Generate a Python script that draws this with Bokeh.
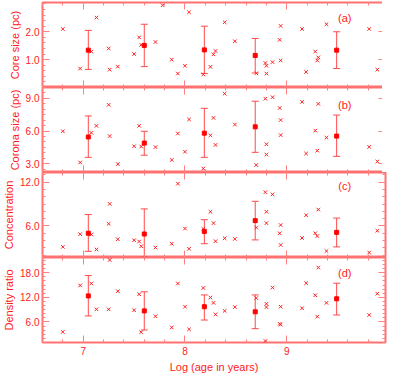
import numpy as np
from bokeh.plotting import figure
from bokeh.layouts import column
from bokeh.models import (LinearAxis, Range1d, FixedTicker, SingleIntervalTicker, Whisker,
                          TeeHead, ColumnDataSource, Label, PrintfTickFormatter)
from bokeh.embed import file_html
from bokeh.resources import INLINE

# ---------------- data ----------------
age_a = [6.80, 6.97, 7.13, 7.08, 7.25, 7.26, 7.34, 7.50, 7.55, 7.57, 7.71, 7.78, 7.87, 7.93, 8.00, 8.04,
         8.18, 8.25, 8.28, 8.30, 8.39, 8.49, 8.70, 8.79, 8.80, 8.80, 8.86, 8.93, 8.94, 8.94, 9.15, 9.19,
         9.28, 9.30, 9.31, 9.39, 9.81, 9.89]
core = [2.10, 0.68, 2.51, 1.29, 1.40, 0.64, 0.75, 1.20, 1.80, 1.53, 1.63, 2.95, 1.00, 0.50, 0.78, 2.70,
        0.47, 0.74, 1.19, 1.31, 2.34, 1.66, 0.51, 0.88, 0.78, 0.50, 0.91, 1.71, 2.21, 0.97, 2.10, 0.56,
        1.29, 0.97, 1.08, 2.27, 2.10, 0.64]

age_b = [6.80, 6.97, 7.08, 7.13, 7.25, 7.26, 7.34, 7.50, 7.55, 7.57, 7.71, 7.87, 7.93, 8.00, 8.04,
         8.18, 8.25, 8.28, 8.30, 8.39, 8.49, 8.70, 8.79, 8.80, 8.80, 8.86, 8.93, 8.94, 8.94, 9.15, 9.19,
         9.28, 9.30, 9.31, 9.39, 9.81, 9.89]
corona = [5.98, 3.12, 5.84, 6.48, 8.41, 5.54, 2.97, 4.61, 6.48, 4.58, 4.53, 3.35, 5.78, 4.11, 7.07,
          2.56, 5.61, 7.21, 4.73, 9.44, 6.60, 2.89, 8.97, 4.79, 3.85, 9.11, 8.12, 7.01, 5.63, 8.68, 3.94,
          6.04, 4.20, 8.50, 5.40, 4.55, 3.21]

age_c = [6.80, 6.97, 7.08, 7.13, 7.25, 7.26, 7.34, 7.50, 7.55, 7.57, 7.71, 7.87, 7.93, 8.00, 8.04,
         8.18, 8.25, 8.28, 8.30, 8.39, 8.49, 8.70, 8.79, 8.80, 8.80, 8.86, 8.93, 8.94, 8.94, 9.15, 9.19,
         9.28, 9.30, 9.31, 9.39, 9.81, 9.89]
concentration = [3.15, 4.88, 4.84, 2.80, 6.30, 9.02, 4.19, 4.06, 3.88, 3.23, 3.06, 3.58, 11.78, 5.65, 2.89,
                 5.61, 7.94, 6.39, 3.93, 4.32, 4.23, 5.78, 10.61, 7.94, 6.39, 10.32, 5.01, 3.41, 6.13, 4.36, 7.47,
                 5.01, 4.62, 8.24, 2.58, 2.38, 5.35]

age_d = [6.80, 6.97, 7.08, 7.13, 7.25, 7.26, 7.34, 7.50, 7.55, 7.57, 7.71, 7.87, 7.93, 8.00, 8.04,
         8.18, 8.25, 8.28, 8.30, 8.39, 8.49, 8.70, 8.79, 8.80, 8.80, 8.86, 8.93, 8.94, 8.94, 9.15, 9.19,
         9.28, 9.30, 9.31, 9.39, 9.81, 9.89]
density = [3.58, 14.90, 15.37, 9.09, 9.09, 21.10, 13.50, 8.86, 12.74, 3.51, 7.40, 4.67, 15.37, 9.72, 4.21,
           14.28, 11.95, 10.65, 7.86, 8.70, 9.63, 11.81, 1.35, 10.42, 9.63, 14.37, 5.53, 5.37, 9.72, 9.33, 15.44,
           12.51, 7.30, 19.26, 10.65, 7.70, 12.88]

# binned means with error bars
mean_age = [7.05, 7.60, 8.19, 8.69, 9.49]
core_mean = [1.34, 1.51, 1.35, 1.15, 1.34]
core_lo = [0.65, 0.75, 0.50, 0.52, 0.68]
core_hi = [2.05, 2.27, 2.20, 1.76, 2.00]
corona_mean = [5.46, 4.90, 5.81, 6.39, 5.54]
corona_lo = [3.59, 3.79, 3.59, 4.05, 3.68]
corona_hi = [7.39, 5.98, 8.09, 8.74, 7.47]
conc_mean = [5.01, 4.91, 5.26, 6.73, 5.13]
conc_lo = [2.54, 1.77, 3.58, 4.10, 3.15]
conc_hi = [7.56, 8.33, 6.86, 9.37, 7.08]
dens_mean = [12.35, 8.70, 9.72, 8.47, 11.65]
dens_lo = [7.47, 4.05, 6.47, 4.37, 7.70]
dens_hi = [17.30, 13.35, 12.58, 12.58, 15.44]

x_label = "Log (age in years)"

# ---------------- style ----------------
FRAME = "#ff7070"
TICK = "#ff8080"
TXT = "#ff1a1a"
PT = "#ff2020"
FONT = "Liberation Sans"
FW, FH = 343, 85

x_range = Range1d(6.6, 9.97)
x_ticker = SingleIntervalTicker(interval=1, num_minor_ticks=5)


def style_axis(ax, labels=True):
    ax.axis_line_color = None
    ax.major_tick_line_color = TICK
    ax.minor_tick_line_color = TICK
    ax.major_tick_in = 7
    ax.major_tick_out = 0
    ax.minor_tick_in = 3
    ax.minor_tick_out = 0
    ax.major_label_text_font = FONT
    ax.axis_label_text_color = TXT
    ax.axis_label_text_font = FONT
    ax.axis_label_text_font_style = "normal"
    ax.axis_label_text_font_size = "11px"
    if labels:
        ax.major_label_text_color = TXT
        ax.major_label_text_font_size = "10px"
    else:
        ax.major_label_text_color = None
        ax.major_label_text_font_size = "1px"
        ax.major_label_standoff = 0


def panel(ylab, yr, yticks, yminor, xs, ys, mv, lo, hi, tag, tag_y, first=False, last=False):
    p = figure(frame_width=FW, frame_height=FH, x_range=x_range, y_range=Range1d(*yr),
               x_axis_type=None, y_axis_type=None, output_backend="svg", toolbar_location=None,
               min_border_left=36, min_border_right=2,
               min_border_top=2 if first else 0, min_border_bottom=30 if last else 0)
    p.outline_line_color = FRAME
    p.outline_line_width = 2
    p.background_fill_color = "white"
    p.border_fill_color = "white"

    y_ticker = FixedTicker(ticks=yticks, minor_ticks=yminor)

    left = LinearAxis(ticker=y_ticker, formatter=PrintfTickFormatter(format="%.1f"), axis_label=ylab)
    style_axis(left)
    left.major_label_standoff = 3
    left.axis_label_standoff = 2
    p.add_layout(left, "left")

    right = LinearAxis(ticker=y_ticker)
    style_axis(right, labels=False)
    p.add_layout(right, "right")

    top = LinearAxis(ticker=x_ticker)
    style_axis(top, labels=False)
    p.add_layout(top, "above")

    bottom = LinearAxis(ticker=x_ticker, formatter=PrintfTickFormatter(format="%d"))
    if last:
        style_axis(bottom)
        bottom.axis_label = x_label
        bottom.major_label_standoff = 4
        bottom.axis_label_standoff = 3
    else:
        style_axis(bottom, labels=False)
    p.add_layout(bottom, "below")

    p.scatter(xs, ys, marker="x", size=5, line_color=PT, line_width=1)

    src = ColumnDataSource(dict(x=mv["x"], y=mv["y"], lo=lo, hi=hi))
    p.add_layout(Whisker(base="x", lower="lo", upper="hi", source=src,
                         line_color="#ff4a4a", line_width=1,
                         upper_head=TeeHead(size=7, line_color="#ff4a4a", line_width=1),
                         lower_head=TeeHead(size=7, line_color="#ff4a4a", line_width=1)))
    p.scatter("x", "y", source=src, marker="square", size=4, fill_color="#ff0000", line_color="#ff0000")

    p.add_layout(Label(x=9.57, y=tag_y, text=tag, text_color=TXT, text_font=FONT,
                       text_font_size="11px", text_align="center", text_baseline="middle"))
    return p


pa = panel("Core size (pc)", (0.0, 3.05), [1.0, 2.0], list(np.arange(0.2, 3.01, 0.2)),
           age_a, core, dict(x=mean_age, y=core_mean), core_lo, core_hi, "(a)", 2.5, first=True)
pb = panel("Corona size (pc)", (2.2, 10.0), [3.0, 6.0, 9.0], list(np.arange(2.5, 10.01, 0.5)),
           age_b, corona, dict(x=mean_age, y=corona_mean), corona_lo, corona_hi, "(b)", 8.4)
pc = panel("Concentration", (1.7, 13.3), [6.0, 12.0], list(np.arange(2.0, 13.01, 1.0)),
           age_c, concentration, dict(x=mean_age, y=conc_mean), conc_lo, conc_hi, "(c)", 11.5)
pd_ = panel("Density ratio", (1.0, 21.7), [6.0, 12.0, 18.0], list(np.arange(1.0, 21.01, 1.0)),
            age_d, density, dict(x=mean_age, y=dens_mean), dens_lo, dens_hi, "(d)", 18.0, last=True)

p = column(pa, pb, pc, pd_, spacing=0)

open("out.html", "w").write(file_html(p, INLINE))
